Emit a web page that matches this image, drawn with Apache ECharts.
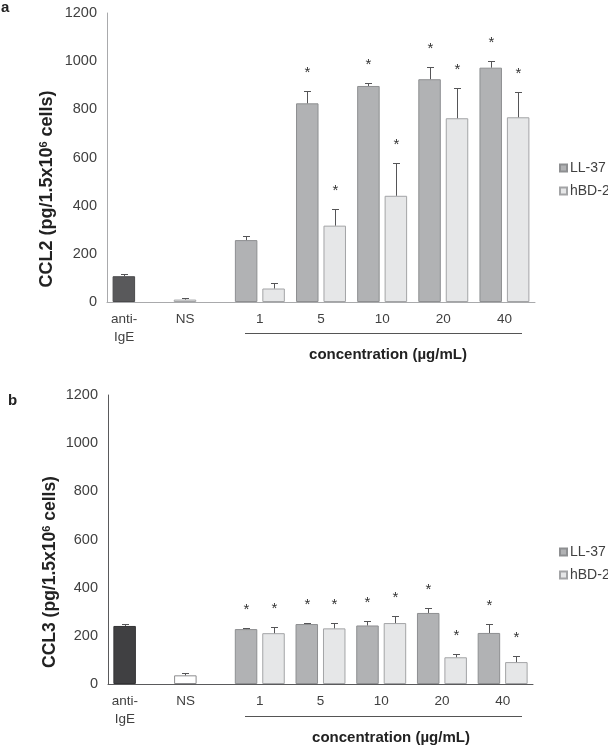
<!DOCTYPE html>
<html><head><meta charset="utf-8">
<script src="https://cdn.jsdelivr.net/npm/echarts@6/dist/echarts.min.js"></script>
<style>html,body{margin:0;padding:0;background:#fff}#c{width:608px;height:745px}</style>
</head><body><div id="c"></div>
<script>
// ---------- data ----------
const categories = ['anti-\nIgE', 'NS', '1', '5', '10', '20', '40'];
const seriesNames = ['LL-37', 'hBD-2'];
const yMin = 0, yMax = 1200, yStep = 200;

// Panel a: CCL2
const ccl2Controls    = [107, 10];     // anti-IgE, NS
const ccl2ControlsErr = [11, 5];
const ccl2LL37        = [257, 825, 897, 925, 973];
const ccl2LL37Err     = [17, 51, 11, 51, 28];
const ccl2HBD2        = [56, 317, 441, 763, 767];
const ccl2HBD2Err     = [24, 68, 136, 124, 104];
const ccl2SigLL37     = [0, 1, 1, 1, 1];
const ccl2SigHBD2     = [0, 1, 1, 1, 1];

// Panel b: CCL3
const ccl3Controls    = [241, 36];
const ccl3ControlsErr = [8, 8];
const ccl3LL37        = [228, 249, 243, 295, 212];
const ccl3LL37Err     = [3, 3, 19, 21, 37];
const ccl3HBD2        = [211, 231, 253, 111, 91];
const ccl3HBD2Err     = [27, 22, 29, 12, 25];
const ccl3SigLL37     = [1, 1, 1, 1, 1];
const ccl3SigHBD2     = [1, 1, 1, 1, 1];

// ---------- style ----------
const FONT = '"Liberation Sans", Arial, Helvetica, sans-serif';
const BAR_W = 22.5, GAP = 0.22;
const SLOT = BAR_W * (1 + GAP) / 2;
const ERR_COLOR = '#555557';

function buildPanel(gi, ctrl, ctrlErr, ll, llErr, hbd, hbdErr, sigLL, sigH, st) {
  const nCtrl = ctrl.length;
  const pad = new Array(nCtrl).fill(null);
  const ctrlData = ctrl.map((v, i) => ({ value: v, itemStyle: st.ctrl[i] }))
    .concat(new Array(ll.length).fill(null));
  const errData = [];
  ctrl.forEach((v, i) => errData.push([i, v, ctrlErr[i], 0, -1]));
  ll.forEach((v, i) => errData.push([nCtrl + i, v, llErr[i], sigLL[i], -1]));
  hbd.forEach((v, i) => errData.push([nCtrl + i, v, hbdErr[i], sigH[i], 1]));
  const common = { type: 'bar', xAxisIndex: gi, yAxisIndex: gi, barWidth: BAR_W, barGap: (GAP * 100) + '%', silent: true };
  return [
    Object.assign({}, common, { name: 'controls', stack: 'L' + gi, data: ctrlData }),
    Object.assign({}, common, { name: seriesNames[0], stack: 'L' + gi, data: pad.concat(ll),
      itemStyle: { color: '#b1b2b4', borderColor: '#8e8f91', borderWidth: 1 } }),
    Object.assign({}, common, { name: seriesNames[1], stack: 'R' + gi, data: pad.concat(hbd),
      itemStyle: { color: '#e6e7e8', borderColor: '#a3a4a6', borderWidth: 1 } }),
    {
      type: 'custom', xAxisIndex: gi, yAxisIndex: gi, silent: true, z: 5,
      encode: { x: 0, y: 1 },
      data: errData,
      renderItem: function (params, api) {
        const x = api.value(0), v = api.value(1), e = api.value(2), s = api.value(3), side = api.value(4);
        const b = api.coord([x, v]);
        const t = api.coord([x, v + e]);
        const cx = Math.round(b[0] + side * SLOT) + 0.5;
        const ty = Math.round(t[1]) + 0.5;
        const children = [
          { type: 'line', shape: { x1: cx, y1: b[1], x2: cx, y2: ty }, style: { stroke: ERR_COLOR, lineWidth: 1 } },
          { type: 'line', shape: { x1: cx - 3.5, y1: ty, x2: cx + 3.5, y2: ty }, style: { stroke: ERR_COLOR, lineWidth: 1 } }
        ];
        if (s) {
          children.push({ type: 'text', x: cx, y: ty - 19,
            style: { text: '*', fill: '#333', font: '15px ' + FONT, align: 'center', verticalAlign: 'middle' } });
        }
        return { type: 'group', children: children };
      }
    }
  ];
}

function yAxisCfg(gi, lineColor) {
  return {
    type: 'value', gridIndex: gi, min: yMin, max: yMax, interval: yStep,
    axisLine: { show: true, lineStyle: { color: lineColor, width: 1 } },
    axisTick: { show: false }, splitLine: { show: false },
    axisLabel: { color: '#404040', fontSize: 14.5, fontFamily: FONT, margin: 10, formatter: v => String(v) }
  };
}
function xAxisCfg(gi, lineColor) {
  return {
    type: 'category', gridIndex: gi, data: categories,
    axisLine: { show: true, lineStyle: { color: lineColor, width: 1 } },
    axisTick: { show: false },
    axisLabel: {
      interval: 0, color: '#404040', fontSize: 13.5, fontFamily: FONT, margin: 8, lineHeight: 18,
      formatter: function (val, idx) {
        if (idx < ccl2Controls.length) return val.split('\n').map(p => '{c|' + p + '}').join('\n');
        return val;
      },
      rich: { c: { fontSize: 13.5, fontFamily: FONT, color: '#404040', lineHeight: 18, padding: [0, Math.round(2 * SLOT), 0, 0] } }
    }
  };
}
function legendCfg(top) {
  return {
    data: seriesNames, orient: 'vertical', left: 559, top: top, padding: 0,
    itemWidth: 7, itemHeight: 7, itemGap: 9, icon: 'rect', selectedMode: false,
    textStyle: { color: '#404040', fontSize: 14, fontFamily: FONT, padding: [0, 0, 0, -2] }
  };
}
function yName(x, y, label, size) {
  return {
    type: 'text', x: x, y: y, rotation: Math.PI / 2, silent: true,
    style: {
      text: '{m|' + label + ' (pg/1.5x10}{s|6}{m| cells)}',
      align: 'center', verticalAlign: 'middle',
      rich: {
        m: { fontSize: size, fontWeight: 'bold', fontFamily: FONT, fill: '#222' },
        s: { fontSize: Math.round(size * 0.6), fontWeight: 'bold', fontFamily: FONT, fill: '#222', verticalAlign: 'top' }
      }
    }
  };
}
function xName(cx, cy, lineY) {
  return [
    { type: 'line', silent: true, shape: { x1: 245, y1: lineY + 0.5, x2: 522, y2: lineY + 0.5 }, style: { stroke: '#555', lineWidth: 1 } },
    { type: 'text', silent: true, x: cx, y: cy, style: { text: 'concentration (µg/mL)', font: 'bold 15px ' + FONT, fill: '#222', align: 'center', verticalAlign: 'middle' } }
  ];
}

const seriesA = buildPanel(0, ccl2Controls, ccl2ControlsErr, ccl2LL37, ccl2LL37Err, ccl2HBD2, ccl2HBD2Err, ccl2SigLL37, ccl2SigHBD2,
  { ctrl: [ { color: '#59595b', borderColor: '#4a4a4c', borderWidth: 1 }, { color: '#f2f2f2', borderColor: '#a3a4a6', borderWidth: 1 } ] });
const seriesB = buildPanel(1, ccl3Controls, ccl3ControlsErr, ccl3LL37, ccl3LL37Err, ccl3HBD2, ccl3HBD2Err, ccl3SigLL37, ccl3SigHBD2,
  { ctrl: [ { color: '#404042', borderColor: '#333335', borderWidth: 1 }, { color: '#ffffff', borderColor: '#8c8c8e', borderWidth: 1 } ] });

const option = {
  animation: false,
  backgroundColor: '#fff',
  grid: [
    { left: 107, right: 73, top: 13, height: 289 },
    { left: 108, right: 75, top: 395, height: 289 }
  ],
  xAxis: [xAxisCfg(0, '#a9aaac'), xAxisCfg(1, '#5a5a5c')],
  yAxis: [yAxisCfg(0, '#a9aaac'), yAxisCfg(1, '#5a5a5c')],
  legend: [legendCfg(161), legendCfg(545)],
  series: seriesA.concat(seriesB),
  graphic: [
    { type: 'text', x: 1, y: 0, silent: true, style: { text: 'a', font: 'bold 15px ' + FONT, fill: '#222' } },
    { type: 'text', x: 8, y: 393, silent: true, style: { text: 'b', font: 'bold 15px ' + FONT, fill: '#222' } },
    yName(47, 189, 'CCL2', 18),
    yName(50, 572, 'CCL3', 17.5)
  ].concat(xName(388, 355, 333)).concat(xName(391, 738, 716))
};

const chart = echarts.init(document.getElementById('c'), null, { renderer: 'canvas' });
chart.setOption(option);
</script>
</body></html>
